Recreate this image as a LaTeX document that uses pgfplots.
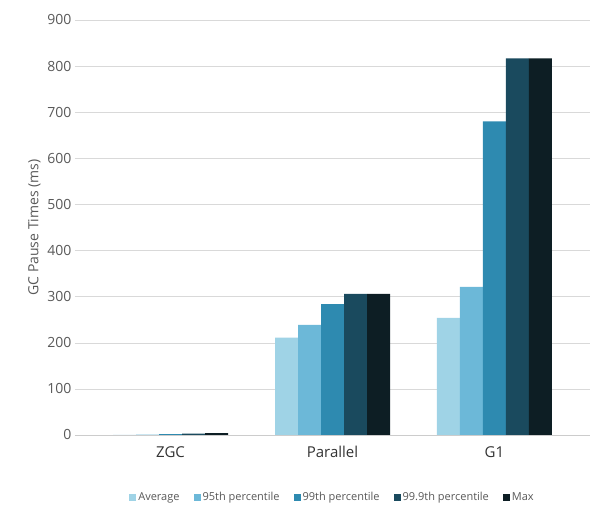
\documentclass[border=0pt]{standalone}
\usepackage{pgfplots}
\pgfplotsset{compat=1.18}
\usepackage{fontspec}
\setmainfont{Open Sans}
\definecolor{c1}{HTML}{9FD3E6}
\definecolor{c2}{HTML}{6CB8D8}
\definecolor{c3}{HTML}{2E8AB0}
\definecolor{c4}{HTML}{1A4A5E}
\definecolor{c5}{HTML}{0D1E24}
\definecolor{tg}{HTML}{595959}
\begin{document}
\begin{tikzpicture}
\begin{axis}[name=ax,
  scale only axis, width=515pt, height=415pt,
  ybar=0pt, bar width=23pt,
  xmin=-0.59, xmax=2.59, ymin=0, ymax=900,
  ytick={0,100,...,900},
  xtick={0,1,2}, xticklabels={ZGC,Parallel,G1},
  xticklabel style={font=\fontsize{15}{18}\selectfont, text=black!80, yshift=-8pt},
  yticklabel style={font=\fontsize{14}{16}\selectfont, text=tg},
  /pgf/number format/assume math mode=true,
  ylabel={GC Pause Times (ms)},
  ylabel style={font=\fontsize{14}{16}\selectfont, text=tg},
  ymajorgrids, grid style={gray!30},
  axis x line*=bottom, axis y line*=left,
  x axis line style={gray!40}, y axis line style={draw=none},
  major tick length=0pt,
  legend style={at={(0.5,-0.15)}, anchor=center, draw=none, legend columns=5,
    font=\fontsize{11}{13}\selectfont, text=tg, /tikz/every even column/.append style={column sep=12pt}},
  legend image code/.code={\fill[#1] (0pt,-3.5pt) rectangle (7pt,3.5pt);},
]
\addplot[fill=c1, draw=none] coordinates {(0,0.5) (1,211) (2,254)};
\addplot[fill=c2, draw=none] coordinates {(0,1) (1,239) (2,321)};
\addplot[fill=c3, draw=none] coordinates {(0,2) (1,284) (2,680)};
\addplot[fill=c4, draw=none] coordinates {(0,3) (1,306) (2,817)};
\addplot[fill=c5, draw=none] coordinates {(0,4) (1,306) (2,817)};
\legend{Average,95th percentile,99th percentile,99.9th percentile,Max}
\end{axis}
\path (ax.south west) ++(-75pt,-90pt) (ax.north east) ++(10pt,20pt);
\end{tikzpicture}
\end{document}
